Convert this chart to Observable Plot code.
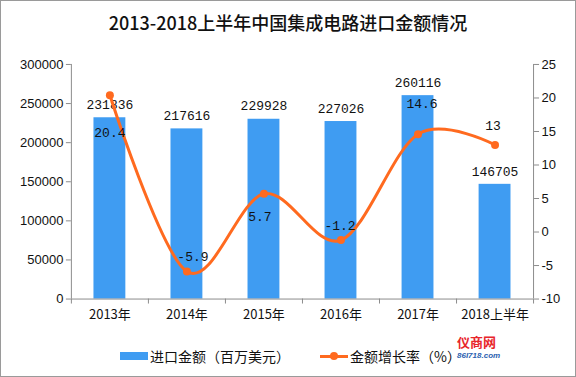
<!DOCTYPE html>
<html>
<head>
<meta charset="utf-8">
<script src="https://cdn.jsdelivr.net/npm/d3@7"></script>
<script src="https://cdn.jsdelivr.net/npm/@observablehq/plot@0.6"></script>
<style>
  html, body { margin: 0; padding: 0; background: #fff; }
  #wrap { position: relative; width: 576px; height: 377px; box-sizing: border-box; border: 1px solid #9a9a9a; overflow: hidden; font-family: "Noto Sans CJK SC", sans-serif; }
  #title { position: absolute; top: 8px; left: 0; width: 100%; text-align: center; font-size: 18px; color: #111; line-height: 26px; font-weight: 500; }
  #chart { position: absolute; top: 44px; left: -1px; }
  #legend { position: absolute; top: 345px; left: 0; width: 100%; height: 20px; font-size: 14px; color: #111; }
  .item { position: absolute; top: 0; display: flex; align-items: center; height: 20px; }
  .sw-bar { width: 28px; height: 8px; background: #3f9cf2; margin-right: 2px; }
  .sw-line { position: relative; width: 28px; height: 3px; background: #ff6a1f; margin-right: 2px; }
  .sw-line::after { content: ""; position: absolute; left: 10px; top: -3px; width: 8px; height: 8px; border-radius: 50%; background: #ff6a1f; }
  #logo { position: absolute; left: 456px; top: 334px; font-size: 13px; font-weight: bold; color: #e8262b; line-height: 14px; }
  #logo small { display: block; font-size: 8px; color: #2b5fb0; font-style: italic; font-family: "Liberation Sans", sans-serif; }
</style>
</head>
<body>
<div id="wrap">
  <div id="title">2013-2018上半年中国集成电路进口金额情况</div>
  <div id="chart"></div>
  <div id="legend">
    <div class="item" style="left:119px"><div class="sw-bar"></div><span>进口金额（百万美元）</span></div>
    <div class="item" style="left:319px"><div class="sw-line"></div><span>金额增长率（%）</span></div>
  </div>
  <div id="logo">仪商网<small>86I718.com</small></div>
</div>
<script>
// ---- data ----
const categories = ["2013年", "2014年", "2015年", "2016年", "2017年", "2018上半年"];
const importAmount = [231836, 217616, 229928, 227026, 260116, 146705]; // 百万美元
const growthRate = [20.4, -5.9, 5.7, -1.2, 14.6, 13]; // %
const leftTicks = [0, 50000, 100000, 150000, 200000, 250000, 300000];
const rightTicks = [-10, -5, 0, 5, 10, 15, 20, 25];

// ---- styling / layout ----
const barColor = "#3f9cf2";
const lineColor = "#ff6a1f";
const axisColor = "#8c8c8c";
const rateLabelDx = [0, 6, -4, -1, 4, -2];
const rateLabelDy = [38, -15, 23, -14, -30, -19];

// map growth rate (right axis, -10..25) into left-axis units (0..300000)
const toLeft = r => (r + 10) / 35 * 300000;
const fromLeft = v => v / 300000 * 35 - 10;

const idx = categories.map((_, i) => i);
const edges = d3.range(-0.5, categories.length, 1);

const chart = Plot.plot({
  width: 576,
  height: 290,
  marginLeft: 71,
  marginRight: 42,
  marginTop: 19,
  marginBottom: 36,
  style: { fontFamily: "Liberation Sans, Arial, sans-serif", fontSize: "13px", color: "#111", background: "transparent" },
  x: { type: "linear", domain: [-0.5, categories.length - 0.5] },
  y: { domain: [0, 300000] },
  marks: [
    Plot.rectY(idx, { x1: i => i - 0.207, x2: i => i + 0.207, y1: 0, y2: i => importAmount[i], fill: barColor }),
    Plot.ruleX([-0.5], { stroke: axisColor }),
    Plot.ruleX([categories.length - 0.5], { stroke: axisColor }),
    Plot.ruleY([0], { stroke: axisColor }),
    Plot.axisY(leftTicks, { anchor: "left", tickSize: 5, tickPadding: 3, stroke: axisColor, tickFormat: d => String(d), label: null, fontSize: 13 }),
    Plot.axisY(rightTicks.map(toLeft), { anchor: "right", tickSize: 5, tickPadding: 3, stroke: axisColor, tickFormat: d => String(Math.round(fromLeft(d))), label: null, fontSize: 13 }),
    Plot.axisX(edges, { anchor: "bottom", tickSize: 5, stroke: axisColor, tickFormat: () => "", label: null }),
    Plot.axisX(idx, { anchor: "bottom", tickSize: 0, tickPadding: 11, tickFormat: i => categories[i], label: null, fontFamily: "Noto Sans CJK SC, sans-serif", fontSize: 13 }),
    Plot.text(idx, { x: i => i, y: i => importAmount[i], text: i => String(importAmount[i]), dy: -13, fontFamily: "Liberation Mono, monospace", fontSize: 13, fill: "#111" }),
    Plot.line(idx, { x: i => i, y: i => toLeft(growthRate[i]), curve: "cardinal", tension: 0, stroke: lineColor, strokeWidth: 3 }),
    Plot.dot(idx, { x: i => i, y: i => toLeft(growthRate[i]), r: 4, fill: lineColor }),
    ...idx.map(i => Plot.text([i], { x: d => d, y: d => toLeft(growthRate[d]), text: d => String(growthRate[d]), dx: rateLabelDx[i], dy: rateLabelDy[i], fontFamily: "Liberation Mono, monospace", fontSize: 13, fill: "#111" }))
  ]
});
document.getElementById("chart").appendChild(chart);
</script>
</body>
</html>
